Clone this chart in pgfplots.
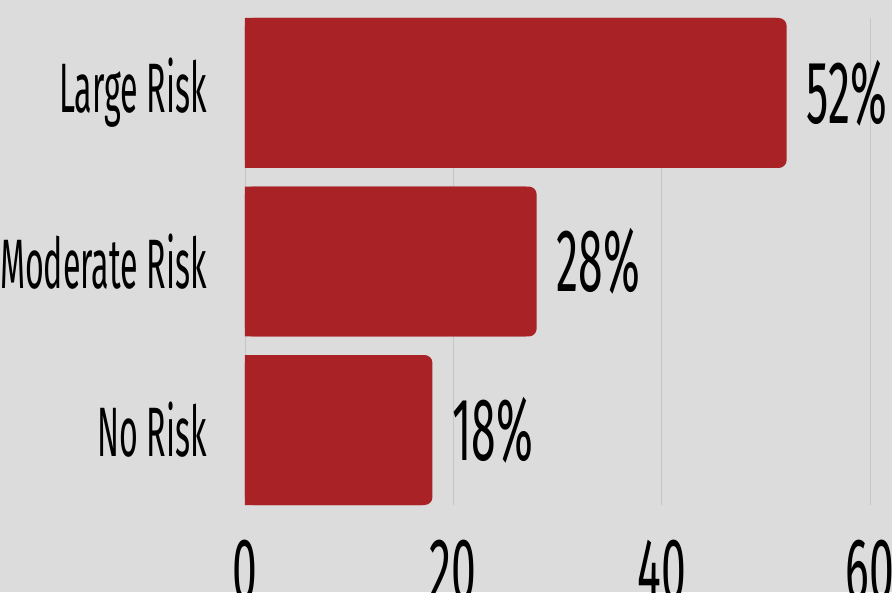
\documentclass[border=0pt]{standalone}
\usepackage{fontspec}
\setmainfont{Fira Sans}[FakeStretch=0.46]
\newfontfamily\numfont{Fira Sans}[FakeStretch=0.5]
\usepackage{pgfplots}
\usepackage{pgfplotstable}
\pgfplotsset{compat=1.18}

\definecolor{bg}{RGB}{219,220,219}
\definecolor{barred}{RGB}{168,34,38}
\definecolor{gridgray}{RGB}{196,198,197}

% category index, share of respondents (%)
\pgfplotstableread{
c v
0 18
1 28
2 52
}\risk

\begin{document}
\begin{tikzpicture}[x=1pt,y=1pt]
\useasboundingbox (0,0) rectangle (892,592);
\clip (0,0) rectangle (892,592);
\fill[bg] (0,0) rectangle (892,592);
\begin{axis}[
  at={(245pt,87pt)}, anchor=south west,
  scale only axis, width=625pt, height=487pt,
  xmin=0, xmax=60, ymin=-0.445, ymax=2.445,
  xtick={0,20,40,60},
  ytick={0,1,2},
  yticklabels={No Risk, Moderate Risk, Large Risk},
  axis line style={draw=none},
  major tick length=0pt,
  xmajorgrids, ymajorgrids=false,
  major grid style={draw=gridgray, line width=0.8pt},
  /pgf/number format/assume math mode=true,
  xticklabel style={anchor=north, inner sep=0pt, yshift=-35pt,
    font=\numfont\fontsize{89}{98}\selectfont},
  yticklabel style={anchor=east, inner sep=0pt, xshift=-38pt,
    font=\fontsize{70}{78}\selectfont},
]
\addplot[xbar, bar width=0.89, bar shift=0pt, fill=barred, draw=none,
  rounded corners=8pt,
  point meta=x,
  nodes near coords={\pgfmathprintnumber{\pgfplotspointmeta}\%},
  every node near coord/.append style={anchor=west, inner sep=0pt,
    xshift=20pt, text=black, font=\numfont\fontsize{89}{98}\selectfont},
] table[x=v, y=c] {\risk};
\addplot[xbar, bar width=0.89, bar shift=0pt, fill=barred, draw=none]
  table[x expr=\thisrow{v}-1, y=c] {\risk};
\end{axis}
\end{tikzpicture}
\end{document}
